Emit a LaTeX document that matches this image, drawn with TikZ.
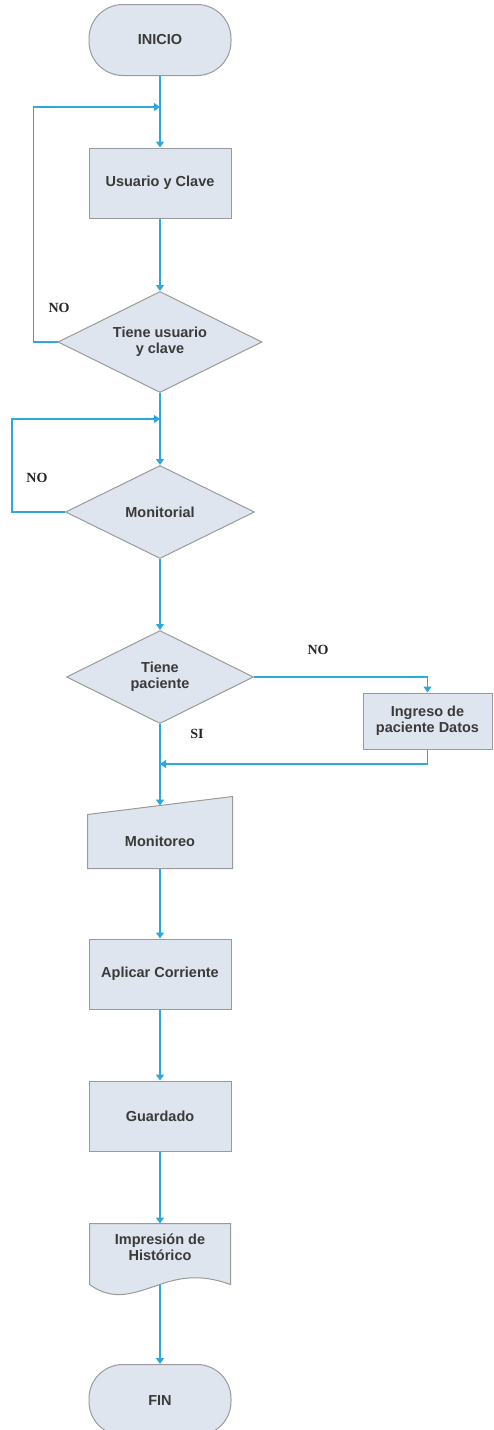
\documentclass[tikz,border=0pt]{standalone}
\usepackage{fontspec}
\setmainfont{Liberation Sans}
\newfontfamily\serifb{Liberation Serif}
\usetikzlibrary{shapes.geometric,arrows.meta,calc,backgrounds}
\definecolor{boxfill}{HTML}{DFE5EF}
\definecolor{boxline}{HTML}{9A9A9A}
\definecolor{flow}{HTML}{2BA8DE}
\definecolor{txt}{HTML}{3A3A3A}
\begin{document}
\begin{tikzpicture}[x=1pt,y=-1pt,
  base/.style={fill=boxfill,draw=boxline,line width=1pt,text=txt,
    font=\fontsize{14.5}{16}\selectfont\bfseries,align=center,inner sep=0pt},
  outline/.style={fill=boxfill,draw=boxline,line width=1pt},
  term/.style={base,rounded corners=34pt,minimum width=142pt,minimum height=71pt},
  proc/.style={base,minimum width=142pt,minimum height=70pt},
  dec/.style={base,diamond,aspect=2},
  ghost/.style={base,draw=none,fill=none},
  flowline/.style={draw=flow,line width=1.4pt,-{Triangle[width=8pt,length=6pt]}},
  lbl/.style={font=\serifb\fontsize{14}{16}\selectfont\bfseries,text=black!85,inner sep=0pt}
]
\useasboundingbox (0,0) rectangle (493,1430);

% nodes
\node[term] (inicio) at (160,40) {INICIO};
\node[proc] (usuario) at (160,183) {Usuario y Clave};
\node[dec,minimum width=204pt,minimum height=101pt] (d1) at (160,342) {Tiene usuario\\y clave};
\node[dec,minimum width=189pt,minimum height=93pt] (d2) at (160,512) {Monitorial};
\node[dec,minimum width=187pt,minimum height=93pt] (d3) at (160,677) {Tiene\\paciente};
\node[proc,minimum width=129pt,minimum height=56pt] (ingreso) at (427.5,721) {Ingreso de\\paciente Datos};
\node[ghost,minimum width=144pt,minimum height=53pt] (mon) at (160,841.5) {Monitoreo};
\node[proc] (aplicar) at (160,974) {Aplicar Corriente};
\node[proc] (guardado) at (160,1116) {Guardado};
\node[ghost,minimum width=140pt,minimum height=46pt] (doc) at (160,1247) {Impresión de\\Histórico};
\node[term] (fin) at (160,1400) {FIN};

% custom outlines
\begin{scope}[on background layer]
  \draw[outline] (mon.south west) -- (mon.north west)
     -- ($(mon.north east)+(0,-18)$) -- (mon.south east) -- cycle;
  \draw[outline] (doc.north west) -- ($(doc.south west)+(0,14)$)
     .. controls ($(doc.south west)+(25,32)$) and ($(doc.south)+(-25,22)$) .. ($(doc.south)+(0,14)$)
     .. controls ($(doc.south)+(25,5)$) and ($(doc.south east)+(-25,5)$) .. ($(doc.south east)+(0,14)$)
     -- (doc.north east) -- cycle;
\end{scope}

% junctions
\coordinate (j1) at (160,107);
\coordinate (j2) at (160,419);
\coordinate (j3) at (160,764);
\coordinate (montop) at ($(mon.north)+(0,-9)$);
\coordinate (docb) at ($(doc.south)+(0,14)$);

% connectors
\draw[flowline] (inicio) -- (usuario);
\draw[flowline] (usuario) -- (d1);
\draw[flowline] (d1.west) -- ++(-24,0) |- (j1);
\draw[flowline] (d1) -- (d2);
\draw[flowline] (d2.west) -- ++(-53,0) |- (j2);
\draw[flowline] (d2) -- (d3);
\draw[flowline] (d3.east) -| (ingreso.north);
\draw[flowline] (ingreso.south) |- (j3);
\draw[flowline] (d3.south) -- (montop);
\draw[flowline] (mon) -- (aplicar);
\draw[flowline] (aplicar) -- (guardado);
\draw[flowline] (guardado) -- (doc);
\draw[flowline] (docb) -- (fin);

% labels
\node[lbl] (no1) at (59,308) {NO};
\node[lbl] (no2) at (37,478) {NO};
\node[lbl] (no3) at (318,650) {NO};
\node[lbl] (si) at (197,734) {SI};
\end{tikzpicture}
\end{document}
